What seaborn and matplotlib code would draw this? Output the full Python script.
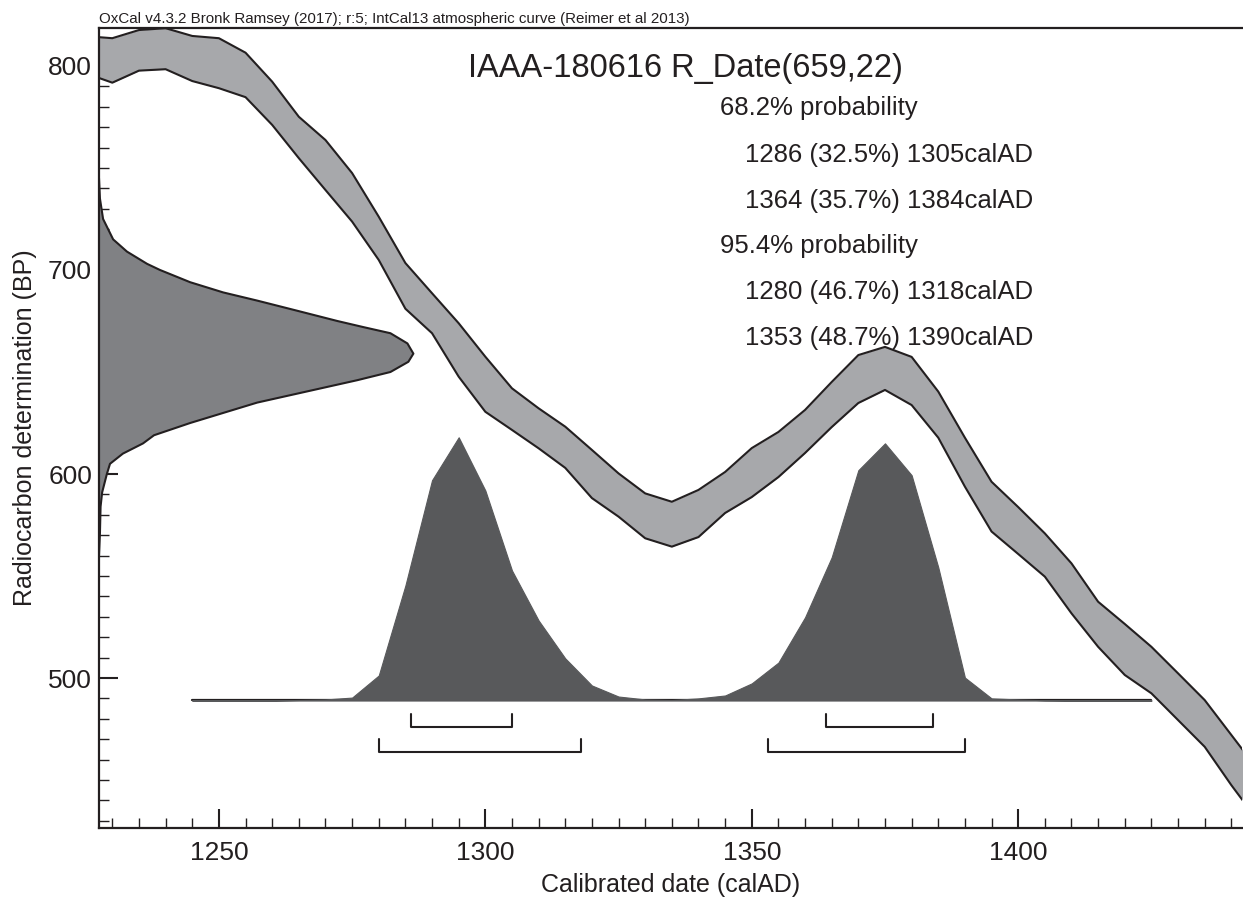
import numpy as np
import pandas as pd
import matplotlib
matplotlib.use("Agg")
import matplotlib.pyplot as plt
import seaborn as sns
from matplotlib.ticker import MultipleLocator

# calibration curve (IntCal13) band, 1-sigma envelope in BP
curve_years = [1225, 1230, 1235, 1240, 1245, 1250, 1255, 1260, 1265, 1270,
               1275, 1280, 1285, 1290, 1295, 1300, 1305, 1310, 1315, 1320,
               1325, 1330, 1335, 1340, 1345, 1350, 1355, 1360, 1365, 1370,
               1375, 1380, 1385, 1390, 1395, 1400, 1405, 1410, 1415, 1420,
               1425, 1430, 1435, 1440, 1445]
curve_upper = [814.6, 813.6, 817.6, 818.5, 814.7, 813.6, 806.5, 792.3, 775.1, 763.7,
               747.5, 726.1, 703.4, 688.6, 673.9, 657.5, 642.0, 632.2, 623.2, 611.8,
               600.3, 590.5, 586.4, 592.2, 601.0, 612.7, 620.6, 631.4, 645.1, 658.3,
               662.3, 657.4, 640.4, 617.8, 596.2, 583.8, 570.9, 556.2, 537.4, 526.5,
               515.3, 502.3, 489.2, 472.1, 455.0]
curve_lower = [796.4, 791.8, 797.7, 798.4, 792.6, 789.1, 784.7, 771.1, 754.8, 739.2,
               723.7, 704.9, 681.0, 669.0, 647.7, 630.5, 621.6, 612.6, 603.0, 588.2,
               579.1, 568.5, 564.4, 569.1, 580.9, 588.7, 598.5, 610.3, 623.0, 634.8,
               641.2, 633.8, 617.8, 593.8, 571.8, 560.8, 549.7, 531.7, 515.3, 501.5,
               492.5, 479.4, 466.3, 447.5, 430.0]

# radiocarbon measurement R_Date(659,22), relative density along BP axis
rdate_bp = [745, 735, 725, 715, 709, 703, 700, 694, 689, 685, 680, 675, 672, 669,
            664, 659, 655, 650, 646, 635, 625, 619, 615, 610, 605, 600, 591, 584,
            571, 560]
rdate_dens = [0.0, 0.003, 0.013, 0.045, 0.089, 0.153, 0.194, 0.290, 0.395, 0.503,
              0.631, 0.758, 0.841, 0.927, 0.981, 1.0, 0.984, 0.927, 0.822, 0.503,
              0.290, 0.175, 0.140, 0.076, 0.035, 0.025, 0.010, 0.005, 0.003, 0.0]

# calibrated probability distribution
cal_years = [1245, 1250, 1255, 1260, 1265, 1270, 1275, 1280, 1285, 1290, 1295,
             1300, 1305, 1310, 1315, 1320, 1325, 1330, 1335, 1340, 1345, 1350,
             1355, 1360, 1365, 1370, 1375, 1380, 1385, 1390, 1395, 1400, 1405,
             1410, 1415, 1420, 1425]
cal_prob = [0.0, 0.0, 0.0, 0.0, 0.002, 0.004, 0.011, 0.095, 0.437, 0.837, 1.0,
            0.798, 0.494, 0.304, 0.160, 0.057, 0.015, 0.004, 0.002, 0.008, 0.019,
            0.065, 0.144, 0.316, 0.544, 0.875, 0.977, 0.856, 0.506, 0.087, 0.008,
            0.004, 0.001, 0.0, 0.0, 0.0, 0.0]

# highest probability ranges
ranges_68 = [(1286, 1305), (1364, 1384)]
ranges_95 = [(1280, 1318), (1353, 1390)]

title = "IAAA-180616 R_Date(659,22)"
summary = ["68.2% probability",
           "  1286 (32.5%) 1305calAD",
           "  1364 (35.7%) 1384calAD",
           "95.4% probability",
           "  1280 (46.7%) 1318calAD",
           "  1353 (48.7%) 1390calAD"]
header = "OxCal v4.3.2 Bronk Ramsey (2017); r:5; IntCal13 atmospheric curve (Reimer et al 2013)"

sns.set_style("ticks")
plt.rcParams["font.family"] = ["Liberation Sans", "DejaVu Sans"]
ink = "#231f20"

fig, ax = plt.subplots(figsize=(12.43, 9.01), dpi=100)
fig.subplots_adjust(left=99 / 1243, right=1242 / 1243, bottom=1 - 828 / 901, top=1 - 28 / 901)

XMIN, XMAX = 1227.5, 1442.0
YMIN, YMAX = 426.5, 818.6
BASE = 489.0        # baseline of calibrated distribution (BP units)
CAL_H = 129.0       # height of calibrated peak in BP units
RD_W = 59.0         # width of R_Date peak in years

curve = pd.DataFrame({"year": curve_years, "upper": curve_upper, "lower": curve_lower})

# calibration band
ax.fill_between(curve["year"], curve["lower"], curve["upper"], color="#a7a8ab", lw=0, zorder=2)
sns.lineplot(data=curve, x="year", y="upper", color=ink, lw=1.5, ax=ax, zorder=3)
sns.lineplot(data=curve, x="year", y="lower", color=ink, lw=1.5, ax=ax, zorder=3)

# R_Date distribution on the y axis
rd_x = XMIN + np.array(rdate_dens) * RD_W
ax.fill_betweenx(rdate_bp, XMIN, rd_x, facecolor="#808184", edgecolor="none", zorder=2)
ax.plot(rd_x, rdate_bp, color=ink, lw=1.5, zorder=3)

# calibrated distribution
ax.plot([cal_years[0], cal_years[-1]], [BASE, BASE], color=ink, lw=1.6, zorder=3)
cal_top = BASE + np.array(cal_prob) * CAL_H
ax.fill_between(cal_years, BASE, cal_top, facecolor="#58595b", edgecolor="#58595b",
                lw=0.8, zorder=4)

# range brackets
for (a, b) in ranges_68:
    ax.plot([a, a, b, b], [482.4, 476.0, 476.0, 482.4], color=ink, lw=1.5, zorder=4)
for (a, b) in ranges_95:
    ax.plot([a, a, b, b], [470.1, 463.7, 463.7, 470.1], color=ink, lw=1.5, zorder=4)

ax.set_xlim(XMIN, XMAX)
ax.set_ylim(YMIN, YMAX)

ax.xaxis.set_major_locator(MultipleLocator(50))
ax.xaxis.set_minor_locator(MultipleLocator(5))
ax.yaxis.set_major_locator(MultipleLocator(100))
ax.yaxis.set_minor_locator(MultipleLocator(10))
ax.tick_params(which="major", direction="in", length=14, width=1.5, color=ink,
               labelsize=19, labelcolor=ink)
ax.tick_params(which="minor", direction="in", length=7, width=1.0, color=ink)
ax.tick_params(axis="x", which="major", pad=9)
ax.tick_params(axis="y", which="major", pad=5)

for side in ["left", "bottom", "top"]:
    ax.spines[side].set_linewidth(1.6)
    ax.spines[side].set_color(ink)
ax.spines["right"].set_visible(False)

ax.set_xlabel("Calibrated date (calAD)", fontsize=18, color=ink, labelpad=6)
ax.set_ylabel("Radiocarbon determination (BP)", fontsize=18, color=ink, labelpad=8)

ax.text(0.3226, 0.95, title, transform=ax.transAxes, fontsize=23.5, color=ink,
        va="center", ha="left")
line_y = [0.90, 0.8413, 0.7838, 0.7275, 0.67, 0.6125]
for txt, yy in zip(summary, line_y):
    xx = 0.543 if not txt.startswith(" ") else 0.5656
    ax.text(xx, yy, txt.strip(), transform=ax.transAxes, fontsize=18.5, color=ink,
            va="center", ha="left")

ax.text(0.0, 1.003, header, transform=ax.transAxes, fontsize=10.9, color=ink,
        va="bottom", ha="left")

fig.savefig("out.png", dpi=100)
